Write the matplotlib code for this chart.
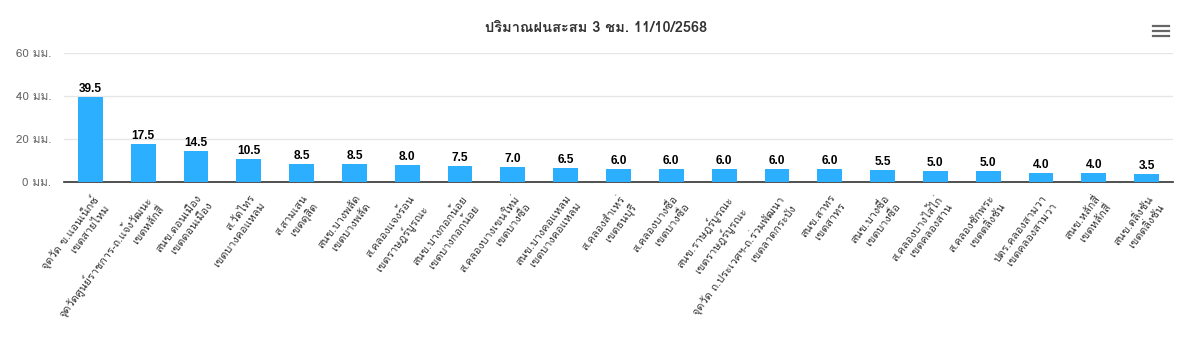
import matplotlib
matplotlib.use("Agg")
import matplotlib.pyplot as plt
from matplotlib import font_manager
from matplotlib.ft2font import FT2Font
from matplotlib.lines import Line2D

# ---------------- data ----------------
title = "ปริมาณฝนสะสม 3 ชม. 11/10/2568"
stations = [
    "จุดวัด ข.แอนเน็กซ์", "จุดวัดศูนย์ราชการ-ถ.แจ้งวัฒนะ", "สนข.ดอนเมือง", "ส.วัดไทร",
    "ส.สามเสน", "สนข.บางพลัด", "ส.คลองแจงร้อน", "สนข.บางกอกน้อย",
    "ส.คลองบางเขนใหม่", "สนข.บางคอแหลม", "ส.คลองสำเหร่", "ส.คลองบางซื่อ",
    "สนข.ราษฎร์บูรณะ", "จุดวัด ถ.ประเวศฯ-ถ.ร่วมพัฒนา", "สนข.สาทร", "สนข.บางซื่อ",
    "ส.คลองบางไส้ไก่", "ส.คลองชักพระ", "ปตร.คลองสามวา", "สนข.หลักสี่", "สนข.ตลิ่งชัน",
]
districts = [
    "เขตสายไหม", "เขตหลักสี่", "เขตดอนเมือง", "เขตบางคอแหลม",
    "เขตดุสิต", "เขตบางพลัด", "เขตราษฎร์บูรณะ", "เขตบางกอกน้อย",
    "เขตบางซื่อ", "เขตบางคอแหลม", "เขตธนบุรี", "เขตบางซื่อ",
    "เขตราษฎร์บูรณะ", "เขตลาดกระบัง", "เขตสาทร", "เขตบางซื่อ",
    "เขตคลองสาน", "เขตตลิ่งชัน", "เขตคลองสามวา", "เขตหลักสี่", "เขตตลิ่งชัน",
]
rain_mm = [39.5, 17.5, 14.5, 10.5, 8.5, 8.5, 8.0, 7.5, 7.0, 6.5, 6.0, 6.0,
           6.0, 6.0, 6.0, 5.5, 5.0, 5.0, 4.0, 4.0, 3.5]
y_ticks = [0, 20, 40, 60]
y_tick_labels = ["0 มม.", "20 มม.", "40 มม.", "60 มม."]

# ---------------- font with Thai glyphs ----------------
thai_fonts = set()
for fe in font_manager.fontManager.ttflist:
    if fe.name in thai_fonts:
        continue
    try:
        if 0x0E01 in FT2Font(fe.fname).get_charmap():
            thai_fonts.add(fe.name)
    except Exception:
        pass
pref = ["Loma", "IBM Plex Sans Thai Looped", "Noto Sans Thai", "Garuda"]
fam = [f for f in pref if f in thai_fonts] + sorted(f for f in thai_fonts if f not in pref)
thai = fam[0] if fam else "DejaVu Sans"
plt.rcParams["font.family"] = [thai, "DejaVu Sans"]

num_font = ["Liberation Sans", "DejaVu Sans"]

# ---------------- figure ----------------
fig = plt.figure(figsize=(12, 3.37), dpi=100)
ax = fig.add_axes([64 / 1200, 1 - 182 / 337, (1173 - 64) / 1200, (182 - 53) / 337])

x = list(range(len(rain_mm)))
ax.bar(x, rain_mm, width=0.47, color="#2caffe", zorder=3)
ax.set_xlim(-0.5, len(rain_mm) - 0.5)
ax.set_ylim(0, 60)
ax.set_yticks(y_ticks)
ax.set_yticklabels(y_tick_labels, color="#666666", fontsize=8.4)
ax.grid(axis="y", color="#e6e6e6", linewidth=1, zorder=0)
for s in ["top", "right", "left"]:
    ax.spines[s].set_visible(False)
ax.spines["bottom"].set_color("#333333")
ax.spines["bottom"].set_linewidth(1.2)
ax.tick_params(axis="y", length=0, pad=9)
ax.tick_params(axis="x", length=0, pad=8)

labels = [f"{a}\n{b}" for a, b in zip(stations, districts)]
ax.set_xticks(x)
ax.set_xticklabels(labels, rotation=53, ha="right", rotation_mode="anchor",
                   multialignment="right", fontsize=7.9, color="#333333",
                   linespacing=1.3)

for xi, v in zip(x, rain_mm):
    ax.annotate(f"{v:.1f}", (xi, v), xytext=(0, 1.5), textcoords="offset points",
                ha="center", va="bottom", fontsize=8.6, fontweight="bold",
                color="black", family=num_font, zorder=4)

fig.text(596 / 1200, 1 - 28 / 337, title, ha="center", va="center", fontsize=10.5,
         fontweight="bold", color="#333333")

# menu icon
for yy in (26, 31, 36):
    fig.add_artist(Line2D([1153 / 1200, 1169 / 1200], [1 - yy / 337] * 2,
                          color="#666666", linewidth=1.6))

fig.savefig("out.png", dpi=100, facecolor="white")
